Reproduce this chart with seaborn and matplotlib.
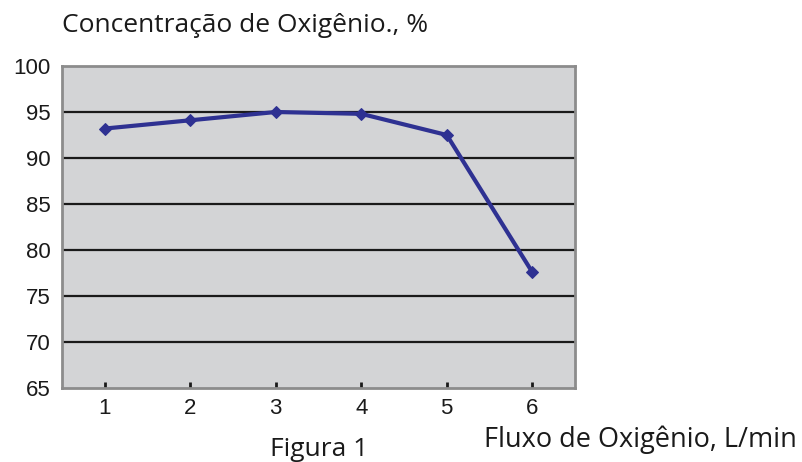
import matplotlib
matplotlib.use("Agg")
import matplotlib.pyplot as plt
import seaborn as sns
import pandas as pd

fluxo = [1, 2, 3, 4, 5, 6]
concentracao = [93.2, 94.1, 95.0, 94.8, 92.5, 77.6]
y_ticks = [65, 70, 75, 80, 85, 90, 95, 100]

df = pd.DataFrame({"fluxo": fluxo, "conc": concentracao})

sns.set_style("white")
fig = plt.figure(figsize=(8.02, 4.62), dpi=100)
ax = fig.add_axes([62/802, 1-388/462, (575-62)/802, (388-66)/462])
ax.set_facecolor("#d3d4d6")

for yv in y_ticks[1:-1]:
    ax.axhline(yv, color="#1a1a1a", lw=1.6, zorder=1)

sns.lineplot(data=df, x="fluxo", y="conc", ax=ax, color="#2e3192", lw=3,
             marker="D", markersize=6.5, markeredgecolor="#2e3192", zorder=3)

ax.set_xlim(0.5, 6.5)
ax.set_ylim(65, 100)
ax.set_xticks(fluxo)
ax.set_yticks(y_ticks)
ax.set_xticklabels([str(v) for v in fluxo], fontsize=16, family="Liberation Sans", color="#1a1a1a")
ax.set_yticklabels([str(v) for v in y_ticks], fontsize=16, family="Liberation Sans", color="#1a1a1a")
ax.tick_params(axis="x", direction="in", length=4, width=2, color="#1a1a1a", pad=7, bottom=True)
ax.tick_params(axis="y", length=0, pad=8, left=False)
ax.set_xlabel("")
ax.set_ylabel("")
for s in ax.spines.values():
    s.set_color("#8c8c8c")
    s.set_linewidth(2)
    s.set_visible(True)

fig.text(62/802, 1-25/462, "Concentração de Oxigênio., %", fontsize=19,
         family="Open Sans", va="center", ha="left", color="#1a1a1a")
fig.text(484/802, 1-440/462, "Fluxo de Oxigênio, L/min", fontsize=19.5,
         family="Open Sans", va="center", ha="left", color="#1a1a1a")
fig.text(319/802, 1-450/462, "Figura 1", fontsize=19,
         family="Open Sans", va="center", ha="center", color="#1a1a1a")

fig.savefig("out.png", dpi=100)
